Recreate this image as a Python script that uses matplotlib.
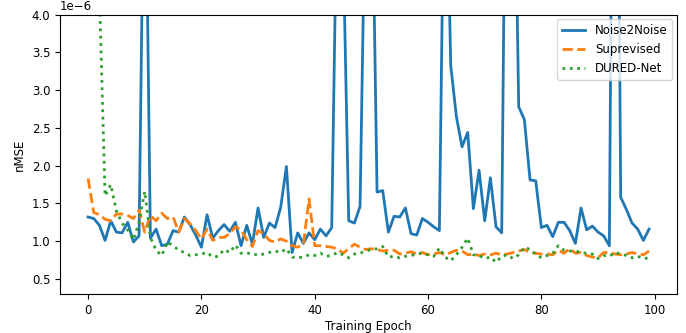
import numpy as np
import matplotlib
matplotlib.use("Agg")
import matplotlib.pyplot as plt

# nMSE per training epoch (values in units of 1e-6)
epochs = np.arange(100)

noise2noise = [
    1.32, 1.30, 1.21, 1.01, 1.27, 1.12, 1.11, 1.25, 0.99, 1.07,
    7.00, 1.04, 1.16, 0.94, 0.96, 1.14, 1.12, 1.32, 1.22, 1.08,
    0.92, 1.35, 1.04, 1.14, 1.22, 1.13, 1.25, 0.94, 1.21, 0.96,
    1.44, 1.05, 1.24, 1.18, 1.45, 1.99, 0.85, 1.11, 0.97, 1.11,
    1.02, 1.16, 1.07, 1.18, 6.00, 5.00, 1.27, 1.24, 1.46, 6.00,
    6.50, 1.65, 1.67, 1.12, 1.33, 1.32, 1.44, 1.10, 1.08, 1.30,
    1.25, 1.19, 1.14, 7.00, 3.33, 2.65, 2.25, 2.44, 1.43, 1.94,
    1.27, 1.84, 1.19, 1.11, 9.00, 7.50, 2.78, 2.61, 1.81, 1.80,
    1.18, 1.21, 1.06, 1.25, 1.25, 1.14, 0.97, 1.44, 1.15, 1.20,
    1.12, 1.07, 0.94, 12.0, 1.58, 1.42, 1.24, 1.16, 1.01, 1.16,
]

supervised = [
    1.83, 1.38, 1.35, 1.29, 1.27, 1.36, 1.36, 1.34, 1.30, 1.41,
    1.12, 1.34, 1.27, 1.37, 1.30, 1.32, 1.12, 1.30, 1.23, 1.14,
    1.03, 1.16, 1.01, 1.05, 1.05, 1.10, 1.19, 1.15, 1.02, 0.93,
    1.14, 1.10, 1.01, 0.99, 1.03, 1.00, 0.94, 0.92, 0.96, 1.56,
    0.94, 0.94, 0.93, 0.92, 0.90, 0.84, 0.90, 0.96, 0.92, 0.89,
    0.90, 0.89, 0.87, 0.88, 0.88, 0.83, 0.84, 0.86, 0.83, 0.85,
    0.82, 0.83, 0.85, 0.82, 0.85, 0.88, 0.87, 0.82, 0.83, 0.81,
    0.83, 0.82, 0.84, 0.82, 0.83, 0.85, 0.87, 0.89, 0.85, 0.84,
    0.83, 0.83, 0.82, 0.88, 0.84, 0.90, 0.84, 0.85, 0.81, 0.79,
    0.78, 0.85, 0.85, 0.83, 0.82, 0.83, 0.85, 0.83, 0.82, 0.87,
]

dured_net = [
    20.0, 9.00, 4.30, 1.60, 1.75, 1.40, 1.24, 1.15, 1.02, 1.25,
    1.66, 1.05, 0.88, 0.81, 0.99, 0.94, 0.88, 0.85, 0.81, 0.82,
    0.83, 0.85, 0.79, 0.80, 0.89, 0.85, 0.95, 0.84, 0.84, 0.84,
    0.81, 0.83, 0.85, 0.87, 0.85, 0.90, 0.79, 0.78, 0.79, 0.82,
    0.81, 0.84, 0.80, 0.81, 0.85, 0.82, 0.78, 0.83, 0.84, 0.87,
    0.89, 0.90, 0.93, 0.79, 0.80, 0.78, 0.80, 0.81, 0.83, 0.84,
    0.82, 0.80, 0.91, 0.79, 0.74, 0.82, 0.92, 1.04, 0.82, 0.81,
    0.77, 0.79, 0.72, 0.80, 0.82, 0.77, 0.82, 0.92, 0.89, 0.83,
    0.78, 0.81, 0.84, 0.94, 0.88, 0.87, 0.87, 0.85, 0.84, 0.83,
    0.77, 0.81, 0.80, 0.85, 0.83, 0.81, 0.78, 0.80, 0.77, 0.78,
]

scale = 1e-6

plt.rcParams['font.size'] = 8.5

fig = plt.figure(figsize=(6.86, 3.33), dpi=100)
ax = fig.add_axes([0.0875, 0.117, 0.8995, 0.839])

ax.plot(epochs, np.array(noise2noise) * scale, '-', linewidth=2, label="Noise2Noise")
ax.plot(epochs, np.array(supervised) * scale, '--', linewidth=2, label="Suprevised")
ax.plot(epochs, np.array(dured_net) * scale, ':', linewidth=2, label="DURED-Net")

ax.set_ylim(0.3e-6, 4e-6)
ax.set_xlabel("Training Epoch", labelpad=2)
ax.set_ylabel("nMSE")
ax.legend(loc="upper right", borderaxespad=0.4)

fig.savefig("out.png", dpi=100)
